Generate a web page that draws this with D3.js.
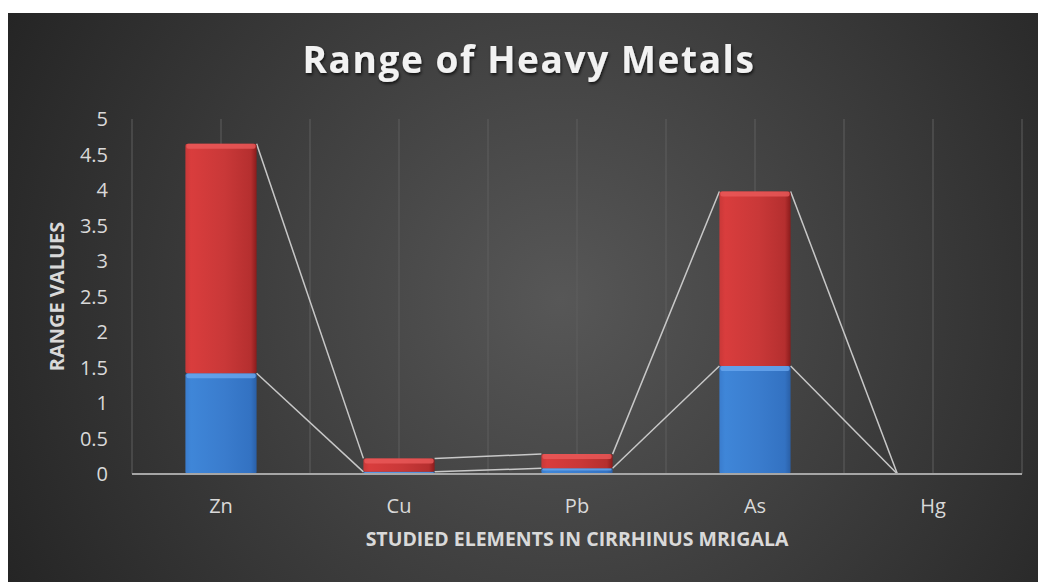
<!DOCTYPE html>
<html><head><meta charset="utf-8">
<script src="https://cdn.jsdelivr.net/npm/d3@7"></script>
<style>html,body{margin:0;padding:0;background:#fff;overflow:hidden}</style>
</head><body><svg id="c" width="1038" height="582"></svg>
<script>
const categories = ["Zn", "Cu", "Pb", "As", "Hg"];
const minValues = [1.42, 0.03, 0.08, 1.52, 0];
const rangeValues = [3.23, 0.19, 0.20, 2.46, 0];
const yTicks = [0, 0.5, 1, 1.5, 2, 2.5, 3, 3.5, 4, 4.5, 5];
const title = "Range of Heavy Metals";
const xTitle = "STUDIED ELEMENTS IN CIRRHINUS MRIGALA";
const yTitle = "RANGE VALUES";

const svg = d3.select("#c");
const defs = svg.append("defs");
const bg = defs.append("radialGradient").attr("id","bg").attr("gradientUnits","userSpaceOnUse")
  .attr("cx",560).attr("cy",300).attr("r",620);
bg.append("stop").attr("offset","0%").attr("stop-color","#575757");
bg.append("stop").attr("offset","100%").attr("stop-color","#252525");

function barGrad(id, c0, c1, c2, c3) {
  const g = defs.append("linearGradient").attr("id",id).attr("x1","0").attr("x2","1").attr("y1","0").attr("y2","0");
  g.append("stop").attr("offset","0%").attr("stop-color",c1);
  g.append("stop").attr("offset","8%").attr("stop-color",c0);
  g.append("stop").attr("offset","55%").attr("stop-color",c1);
  g.append("stop").attr("offset","92%").attr("stop-color",c2);
  g.append("stop").attr("offset","100%").attr("stop-color",c3);
}
barGrad("red", "#d93d3d", "#c93838", "#b52f2f", "#8a1c1c");
barGrad("blue", "#3f86d8", "#3a7ccd", "#3372c2", "#2a5fa6");
const sh = defs.append("filter").attr("id","tsh").attr("x","-10%").attr("y","-30%").attr("width","120%").attr("height","160%");
sh.append("feDropShadow").attr("dx",1).attr("dy",2).attr("stdDeviation",1.5).attr("flood-color","#000").attr("flood-opacity",0.7);

svg.append("rect").attr("x",8).attr("y",13).attr("width",1030).attr("height",569).attr("fill","url(#bg)");

const L = 132, R = 1022, T = 119, B = 474;
const x = d3.scaleBand().domain(categories).range([L, R]).paddingInner(0.6).paddingOuter(0.3);
const y = d3.scaleLinear().domain([0, 5]).range([B, T]);
const bw = x.bandwidth(), step = x.step();

// vertical gridlines at category boundaries and centers
const gx = [];
categories.forEach(c => { gx.push(x(c) - step * 0.3); gx.push(x(c) + bw / 2); });
gx.push(R);
svg.append("g").selectAll("line").data(gx).join("line")
  .attr("x1", d => d).attr("x2", d => d).attr("y1", T).attr("y2", B)
  .attr("stroke", "#5f5f5f").attr("stroke-width", 1);

const FONT = "'Open Sans', sans-serif";

// y tick labels
svg.append("g").selectAll("text").data(yTicks).join("text")
  .attr("x", 108).attr("y", d => y(d)).attr("dy", "0.36em").attr("text-anchor", "end")
  .attr("font-family", FONT).attr("font-size", 20).attr("fill", "#d9d9d9")
  .text(d => d);

// stacked data
const stackData = categories.map((c, i) => ({ c, lo: minValues[i], hi: minValues[i] + rangeValues[i] }));
const seriesDefs = [
  { key: "min", fill: "url(#blue)", hl: "#6aa8ef", y0: d => 0, y1: d => d.lo },
  { key: "range", fill: "url(#red)", hl: "#ea5a5a", y0: d => d.lo, y1: d => d.hi }
];

// series lines
const lineG = svg.append("g");
seriesDefs.forEach(s => {
  for (let i = 0; i < stackData.length - 1; i++) {
    const a = stackData[i], b = stackData[i + 1];
    lineG.append("line")
      .attr("x1", x(a.c) + bw).attr("y1", y(s.y1(a)))
      .attr("x2", x(b.c)).attr("y2", y(s.y1(b)))
      .attr("stroke", "#c8c8c8").attr("stroke-width", 1.5);
  }
});

// bars
seriesDefs.forEach(s => {
  const g = svg.append("g");
  stackData.forEach(d => {
    const top = y(s.y1(d)), bot = y(s.y0(d));
    const h = bot - top;
    if (h <= 0) return;
    g.append("rect").attr("x", x(d.c)).attr("y", top).attr("width", bw).attr("height", h)
      .attr("fill", s.fill).attr("rx", Math.min(2, h / 2));
    const hh = Math.min(5, h * 0.4);
    g.append("rect").attr("x", x(d.c) + 1).attr("y", top).attr("width", bw - 2).attr("height", hh)
      .attr("fill", s.hl).attr("opacity", 0.8).attr("rx", Math.min(2, hh / 2));
  });
});

// x axis line
svg.append("line").attr("x1", L).attr("x2", R).attr("y1", B).attr("y2", B)
  .attr("stroke", "#a6a6a6").attr("stroke-width", 2);

// x category labels
svg.append("g").selectAll("text").data(categories).join("text")
  .attr("x", d => x(d) + bw / 2).attr("y", 513).attr("text-anchor", "middle")
  .attr("font-family", FONT).attr("font-size", 20).attr("fill", "#d9d9d9")
  .text(d => d);

// axis titles
svg.append("text").attr("x", (L + R) / 2).attr("y", 546).attr("text-anchor", "middle")
  .attr("font-family", FONT).attr("font-weight", "bold").attr("font-size", 19.5).attr("fill", "#d9d9d9")
  .text(xTitle);
svg.append("text").attr("transform", `translate(57,${(T + B) / 2}) rotate(-90)`).attr("dy", "0.36em").attr("text-anchor", "middle")
  .attr("font-family", FONT).attr("font-weight", "bold").attr("font-size", 20).attr("fill", "#d9d9d9")
  .text(yTitle);

// title
svg.append("text").attr("x", 529).attr("y", 73).attr("text-anchor", "middle")
  .attr("font-family", FONT).attr("font-weight", "bold").attr("font-size", 37)
  .attr("letter-spacing", 1.6).attr("fill", "#f2f2f2").attr("filter", "url(#tsh)")
  .text(title);
</script></body></html>
